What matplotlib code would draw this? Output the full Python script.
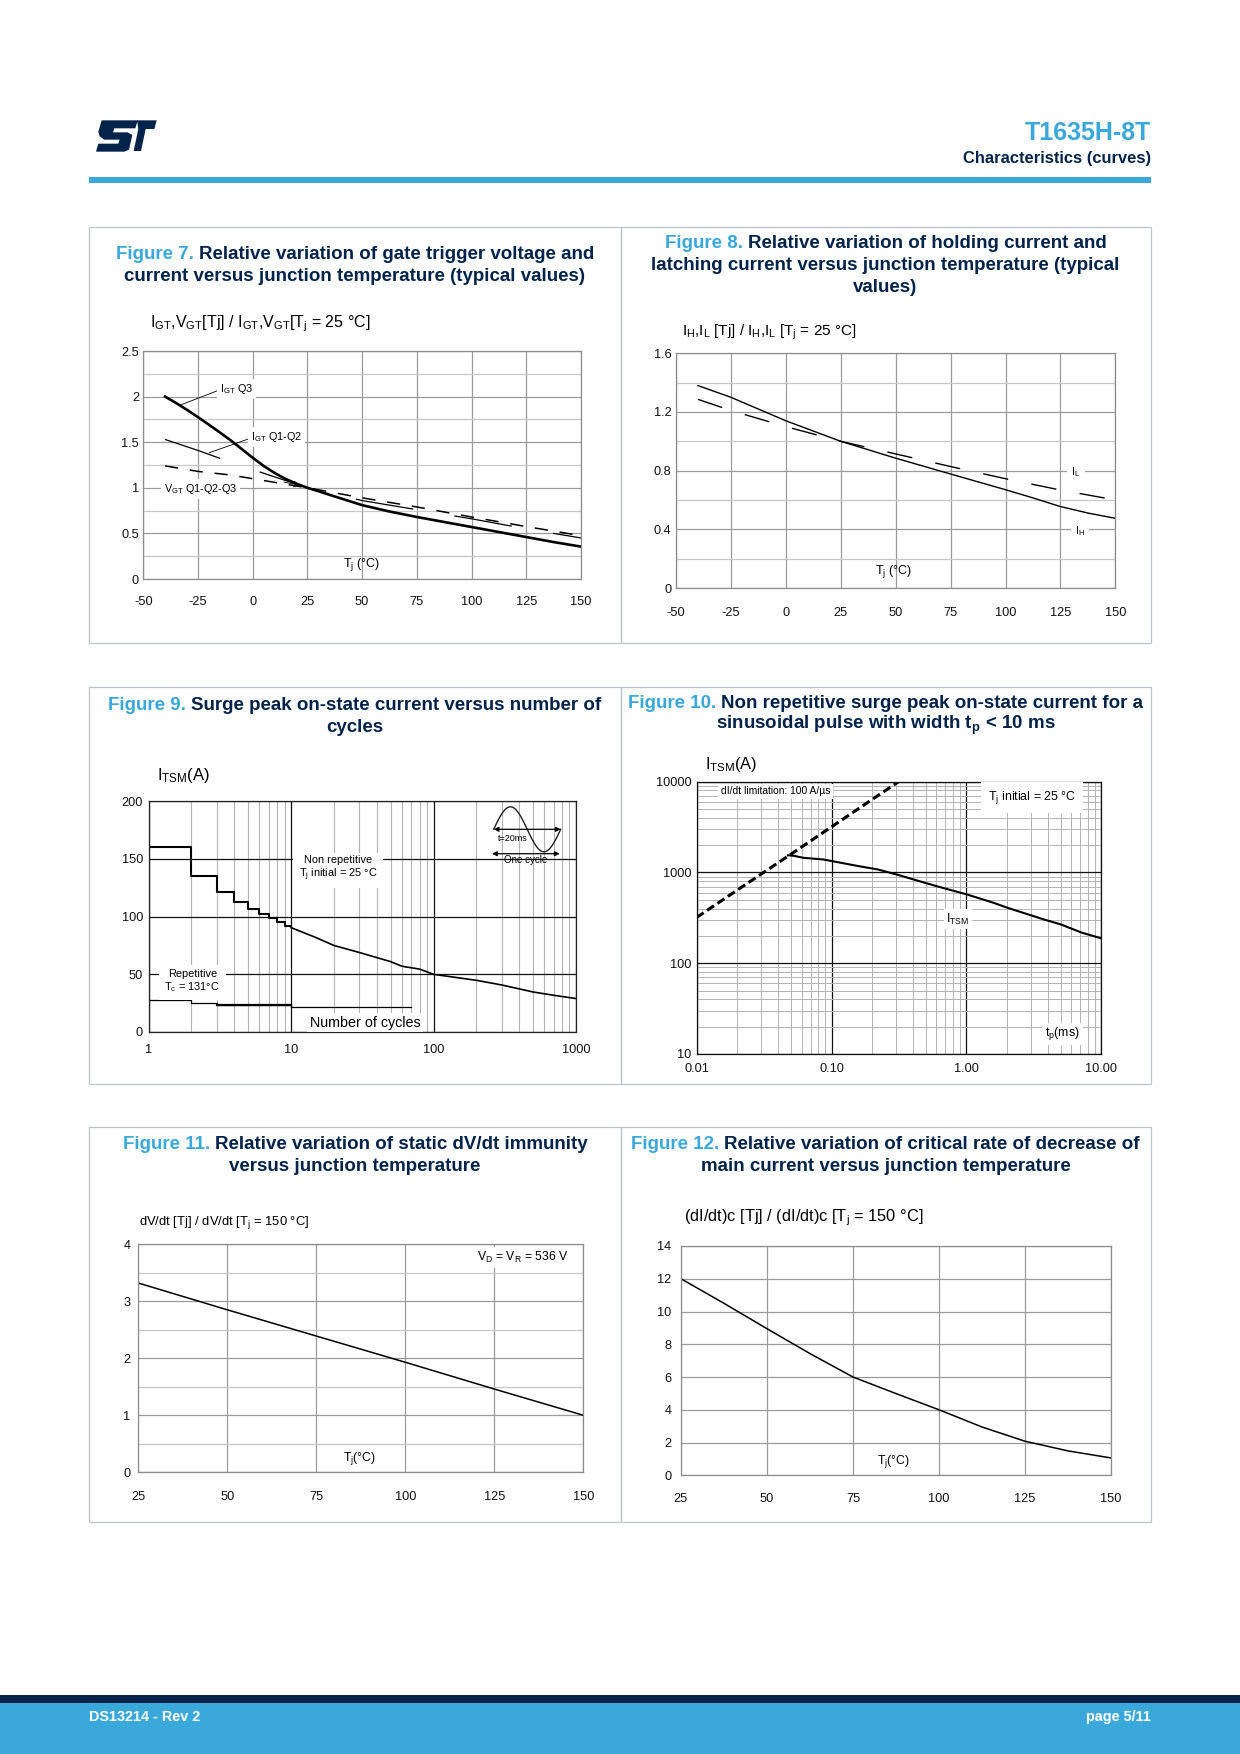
import numpy as np
import matplotlib
matplotlib.use('Agg')
import matplotlib.pyplot as plt
from matplotlib.patches import Rectangle, Polygon
from matplotlib.ticker import NullLocator, NullFormatter

plt.rcParams['font.family'] = ['Liberation Sans', 'DejaVu Sans']
plt.rcParams['mathtext.fontset'] = 'custom'
plt.rcParams['mathtext.rm'] = 'Liberation Sans'
plt.rcParams['mathtext.it'] = 'Liberation Sans:italic'
plt.rcParams['mathtext.bf'] = 'Liberation Sans:bold'
plt.rcParams['lines.scale_dashes'] = False

# ---- data ----
# Figure 7: IGT / VGT relative to 25 degC
f7_tj_q3 = [-40, -35, -30, -25, -20, -15, -10, -5, 0, 5, 10, 15, 20, 25, 30, 37.5, 50, 62.5, 75, 87.5, 100, 112.5, 125, 137.5, 150]
f7_igt_q3 = [2.00, 1.93, 1.855, 1.775, 1.692, 1.607, 1.52, 1.425, 1.33, 1.24, 1.163, 1.098, 1.045, 1.00, 0.963,
             0.905, 0.81, 0.74, 0.68, 0.625, 0.57, 0.515, 0.46, 0.405, 0.355]
f7_tj = [-40, -25, -10, 0, 12.5, 25, 50, 75, 100, 125, 150]
f7_igt_q12 = [1.53, 1.41, 1.28, 1.20, 1.10, 1.00, 0.86, 0.76, 0.66, 0.55, 0.45]
f7_vgt = [1.24, 1.18, 1.14, 1.10, 1.05, 1.00, 0.89, 0.79, 0.68, 0.575, 0.475]

# Figure 8: IH / IL relative to 25 degC
f8_tj = [-40, -25, 0, 25, 50, 75, 100, 112.5, 125, 137.5, 150]
f8_ih = [1.38, 1.30, 1.14, 1.00, 0.885, 0.777, 0.67, 0.614, 0.555, 0.511, 0.475]
f8_il = [1.286, 1.21, 1.10, 1.00, 0.914, 0.828, 0.745, 0.706, 0.668, 0.634, 0.60]

# Figure 9: ITSM vs number of cycles
f9_step_n = [1, 2, 3, 4, 5, 6, 7, 8, 9, 10]
f9_step_i = [160, 135, 121, 113, 107, 102, 99, 95, 92, 92]
f9_nonrep_n = [10, 15, 20, 30, 40, 50, 60, 80, 100, 200, 300, 500, 700, 1000]
f9_nonrep_i = [90.5, 81.8, 75, 69, 64.5, 61, 57, 54.5, 50, 44.8, 40.8, 34.7, 31.8, 29]
f9_rep_n = [1, 2, 3, 10, 70]
f9_rep_i = [27.5, 25, 23.5, 22, 22]

# Figure 10: ITSM vs pulse width
f10_lim_tp = [0.01, 0.02, 0.05, 0.1, 0.2, 0.314]
f10_lim_i = [320, 640, 1590, 3180, 6370, 10000]
f10_tp = [0.0475, 0.052, 0.062, 0.087, 0.1, 0.156, 0.22, 0.3, 0.59, 1.0, 1.58, 2.0, 3.8, 5.0, 7.2, 10]
f10_itsm = [1545, 1530, 1450, 1390, 1337, 1180, 1080, 955, 712, 575, 465, 410, 302, 268, 217, 188]

# Figure 11: dV/dt relative to 150 degC
f11_tj = [25, 50, 75, 100, 125, 150]
f11_ratio = [3.32, 2.85, 2.39, 1.93, 1.46, 1.00]

# Figure 12: (dI/dt)c relative to 150 degC
f12_tj = [25, 37.5, 50, 62.5, 75, 87.5, 100, 112.5, 125, 137.5, 150]
f12_ratio = [12.0, 10.5, 8.95, 7.43, 6.0, 4.99, 4.0, 2.95, 2.08, 1.49, 1.06]

W, H = 1240, 1754
NAVY = '#03234b'
BLUE = '#3aa8db'
GRID = '#9b9b9b'
GRID2 = '#c8c8c8'

fig = plt.figure(figsize=(W / 100, H / 100), dpi=100)


def add_ax(l, t, r, b):
    return fig.add_axes([l / W, 1 - b / H, (r - l) / W, (b - t) / H])


def ptext(x, y, s, **kw):
    return fig.text(x / W, 1 - y / H, s, **kw)


def rect(l, t, r, b, **kw):
    fig.add_artist(Rectangle((l / W, 1 - b / H), (r - l) / W, (b - t) / H,
                             transform=fig.transFigure, **kw))


def title(cx, ys, lines):
    rend = fig.canvas.get_renderer()
    for y, parts in zip(ys, lines):
        objs, widths = [], []
        for s, c in parts:
            t = ptext(0, y, s, color=c, fontsize=13.5, fontweight='bold', va='center', ha='left')
            objs.append(t)
            widths.append(t.get_window_extent(rend).width)
        gap = 5
        x = cx - (sum(widths) + gap * (len(parts) - 1)) / 2
        for t, w in zip(objs, widths):
            t.set_x(x / W)
            x += w + gap


def style(ax, xpad, ypad, spine='#8c8c8c'):
    for s in ax.spines.values():
        s.set_color(spine)
        s.set_linewidth(0.9)
    ax.tick_params(which='both', length=0, labelsize=9.2, colors='#111111')
    ax.tick_params(axis='x', pad=xpad)
    ax.tick_params(axis='y', pad=ypad)
    ax.set_axisbelow(True)


def lin_grid(ax, xt, ymaj, ylab, ymin=None):
    ax.set_xticks(xt, labels=[str(v) for v in xt])
    ax.set_yticks(ymaj, labels=ylab)
    if ymin is not None:
        ax.set_yticks(ymin, minor=True)
        ax.yaxis.grid(True, which='minor', color=GRID2, lw=0.9)
    ax.grid(True, which='major', color=GRID, lw=0.9)


bbox_w = dict(facecolor='white', edgecolor='none', pad=2)

# ---- header ----
logo_s = [(50, 16), (158, 16), (151, 40), (88, 40), (84, 52), (128, 52), (142, 60), (132, 104), (118, 110),
          (33, 110), (40, 86), (100, 86), (104, 74), (58, 74), (44, 64), (40, 50)]
logo_t = [(156, 16), (215, 16), (208, 42), (182, 42), (168, 108), (146, 108), (160, 42)]
for poly in (logo_s, logo_t):
    pts = [((85 + cx / 3) / W, 1 - (115 + cy / 3) / H) for cx, cy in poly]
    fig.add_artist(Polygon(pts, closed=True, facecolor=NAVY, edgecolor='none', transform=fig.transFigure))

ptext(1151, 132.5, 'T1635H-8T', color=BLUE, fontsize=18, fontweight='bold', ha='right', va='center')
ptext(1151, 158, 'Characteristics (curves)', color=NAVY, fontsize=11.9, fontweight='bold', ha='right', va='center')
rect(89, 177, 1151, 183, facecolor=BLUE, edgecolor='none')

# ---- footer ----
rect(0, 1695, W, 1703, facecolor=NAVY, edgecolor='none')
rect(0, 1703, W, H, facecolor=BLUE, edgecolor='none')
ptext(89, 1717, 'DS13214 - Rev 2', color='white', fontsize=10.4, fontweight='bold', ha='left', va='center')
ptext(1151, 1717, 'page 5/11', color='white', fontsize=10.4, fontweight='bold', ha='right', va='center')

# ---- panel frames ----
for t, b in [(227, 643), (686.5, 1083.5), (1127, 1522)]:
    for l, r in [(89.4, 620.5), (620.5, 1150.5)]:
        rect(l, t, r, b, facecolor='none', edgecolor='#bcc4cc', lw=0.9)

# ---- Figure 7 ----
title(355, [254.7, 276.3],
      [[('Figure 7.', BLUE), ('Relative variation of gate trigger voltage and', NAVY)],
       [('current versus junction temperature (typical values)', NAVY)]])
ax = add_ax(143.2, 351, 581, 579)
style(ax, 12.4, 3)
ax.set_xlim(-50, 150)
ax.set_ylim(0, 2.5)
lin_grid(ax, list(range(-50, 151, 25)), [0, 0.5, 1, 1.5, 2, 2.5], ['0', '0.5', '1', '1.5', '2', '2.5'],
         [0.25, 0.75, 1.25, 1.75, 2.25])
ax.plot(f7_tj_q3, f7_igt_q3, color='k', lw=1.9)
ax.plot(f7_tj, f7_igt_q12, color='k', lw=0.9, dashes=(42, 30))
ax.plot(f7_tj, f7_vgt, color='k', lw=1.1, dashes=(9.5, 8.5))
ax.plot([-15.5, -32.7], [2.07, 1.91], color='k', lw=0.6)
ax.plot([-2, -19.8], [1.535, 1.385], color='k', lw=0.6)
ax.annotate('', xy=(23, 1.02), xytext=(13, 1.07),
            arrowprops=dict(arrowstyle='->', lw=0.6, color='k'))
ax.text(-15, 2.08, r'$\mathregular{I_{GT}}$ Q3', fontsize=7.8, ha='left', va='center', bbox=bbox_w)
ax.text(-0.8, 1.56, r'$\mathregular{I_{GT}}$ Q1-Q2', fontsize=7.8, ha='left', va='center', bbox=bbox_w)
ax.text(-40.7, 0.99, r'$\mathregular{V_{GT}}$ Q1-Q2-Q3', fontsize=7.8, ha='left', va='center', bbox=bbox_w)
ptext(150, 324, r'$\mathregular{I_{GT}}$,$\mathregular{V_{GT}}$[Tj] / $\mathregular{I_{GT}}$,$\mathregular{V_{GT}}$[$\mathregular{T_j}$ = 25 °C]',
      fontsize=11.5, ha='left', va='center')
ptext(361.6, 564, r'$\mathregular{T_j}$ (°C)', fontsize=9, ha='center', va='center')

# ---- Figure 8 ----
title(885.5, [243.3, 265.7, 287.3],
      [[('Figure 8.', BLUE), ('Relative variation of holding current and', NAVY)],
       [('latching current versus junction temperature (typical', NAVY)],
       [('values)', NAVY)]])
ax = add_ax(676, 353.3, 1115.4, 588)
style(ax, 13.9, 3.2)
ax.set_xlim(-50, 150)
ax.set_ylim(0, 1.6)
lin_grid(ax, list(range(-50, 151, 25)), [0, 0.4, 0.8, 1.2, 1.6], ['0', '0.4', '0.8', '1.2', '1.6'],
         [0.2, 0.6, 1.0, 1.4])
ax.plot(f8_tj, f8_ih, color='k', lw=1.0)
ax.plot(f8_tj, f8_il, color='k', lw=1.0, dashes=(18.4, 17))
ax.text(130, 0.793, r'$\mathregular{I_L}$', fontsize=7.8, ha='left', va='center', bbox=dict(facecolor='white', edgecolor='none', pad=3))
ax.text(131.5, 0.39, r'$\mathregular{I_H}$', fontsize=7.8, ha='left', va='center', bbox=dict(facecolor='white', edgecolor='none', pad=3))
ptext(682, 332, r'$\mathregular{I_H}$,$\mathregular{I_L}$ [Tj] / $\mathregular{I_H}$,$\mathregular{I_L}$ [$\mathregular{T_j}$ = 25 °C]',
      fontsize=11, ha='left', va='center')
ptext(894, 571, r'$\mathregular{T_j}$ (°C)', fontsize=9, ha='center', va='center')

# ---- Figure 9 ----
title(355, [705.3, 727.7],
      [[('Figure 9.', BLUE), ('Surge peak on-state current versus number of', NAVY)],
       [('cycles', NAVY)]])
ax = add_ax(148.6, 801.3, 576, 1032)
style(ax, 8.9, 4, spine='#222222')
ax.set_xscale('log')
ax.set_xlim(1, 1000)
ax.set_ylim(0, 200)
ax.set_xticks([1, 10, 100, 1000], labels=['1', '10', '100', '1000'])
ax.set_xticks([m * 10 ** k for k in range(3) for m in range(2, 10)], minor=True)
ax.xaxis.set_minor_formatter(NullFormatter())
ax.set_yticks([0, 50, 100, 150, 200], labels=['0', '50', '100', '150', '200'])
ax.yaxis.set_minor_locator(NullLocator())
ax.xaxis.grid(True, which='minor', color='#b4b4b4', lw=0.8)
ax.grid(True, which='major', color='#111111', lw=0.9)
ax.plot(f9_step_n, f9_step_i, color='k', lw=1.5, drawstyle='steps-post')
ax.plot(f9_nonrep_n, f9_nonrep_i, color='k', lw=1.2)
ax.plot(f9_rep_n, f9_rep_i, color='k', lw=0.9, drawstyle='steps-post')
ax.plot(f9_rep_n[2:4], f9_rep_i[2:3] * 2, color='k', lw=1.6)
ptext(338, 868.7, 'Non repetitive\n' + r'$\mathregular{T_j}$ initial = 25 °C', fontsize=7.9, ha='center', va='center',
      multialignment='center', linespacing=1.15, bbox=dict(facecolor='white', edgecolor='none', pad=4))
ptext(192.3, 981.5, 'Repetitive\n' + r'$\mathregular{T_c}$ = 131°C', fontsize=7.9, ha='center', va='center',
      multialignment='center', linespacing=1.15, bbox=dict(facecolor='white', edgecolor='none', pad=4))
ptext(365, 1022.7, 'Number of cycles', fontsize=10.3, ha='center', va='center', bbox=bbox_w)
ptext(156.7, 775.3, r'$\mathregular{I_{TSM}}$(A)', fontsize=12, ha='left', va='center')

# small waveform icon
ins = add_ax(488.6, 802.7, 566.5, 866)
ins.set_xlim(488.6, 566.5)
ins.set_ylim(866, 802.7)
ins.set_facecolor('white')
ins.set_axis_off()
ins.patch.set_visible(True)
ph = np.linspace(0, 2 * np.pi, 80)
ins.plot(493.7 + ph / (2 * np.pi) * 67, 829.3 - 22.5 * np.sin(ph), color='#222222', lw=1.0)
ins.annotate('', xy=(493.7, 829.3), xytext=(560.7, 829.3),
             arrowprops=dict(arrowstyle='<|-|>', lw=0.9, color='k', mutation_scale=7, shrinkA=0, shrinkB=0))
ins.annotate('', xy=(492, 853.7), xytext=(559.7, 853.7),
             arrowprops=dict(arrowstyle='<|-|>', lw=0.9, color='k', mutation_scale=7, shrinkA=0, shrinkB=0))
ins.text(512.3, 838.3, 't=20ms', fontsize=6.5, ha='center', va='center')
ins.text(525.8, 860, 'One cycle', fontsize=7, ha='center', va='center')

# ---- Figure 10 ----
title(885.7, [703.3, 725.3],
      [[('Figure 10.', BLUE), ('Non repetitive surge peak on-state current for a', NAVY)],
       [(r'sinusoidal pulse with width $\mathbf{t_p}$ < 10 ms', NAVY)]])
ax = add_ax(696.7, 781.7, 1101.2, 1054)
style(ax, 6.5, 4, spine='#111111')
ax.set_xscale('log')
ax.set_yscale('log')
ax.set_xlim(0.01, 10)
ax.set_ylim(10, 10000)
ax.set_xticks([0.01, 0.1, 1, 10], labels=['0.01', '0.10', '1.00', '10.00'])
ax.set_yticks([10, 100, 1000, 10000], labels=['10', '100', '1000', '10000'])
ax.set_xticks([m * 10.0 ** k for k in range(-2, 1) for m in range(2, 10)], minor=True)
ax.set_yticks([m * 10 ** k for k in range(1, 4) for m in range(2, 10)], minor=True)
ax.xaxis.set_minor_formatter(NullFormatter())
ax.yaxis.set_minor_formatter(NullFormatter())
ax.grid(True, which='minor', color='#b4b4b4', lw=0.7)
ax.grid(True, which='major', color='#111111', lw=0.9)
ax.plot(f10_lim_tp, f10_lim_i, color='k', lw=2.2, dashes=(6, 3))
ax.plot(f10_tp, f10_itsm, color='k', lw=1.5)
ptext(721, 791.3, 'dI/dt limitation: 100 A/µs', fontsize=7.4, ha='left', va='center', bbox=bbox_w)
ptext(988, 797.7, r'$\mathregular{T_j}$ initial = 25 °C', fontsize=8.9, ha='left', va='center',
      bbox=dict(facecolor='white', edgecolor='none', pad=5))
ptext(958, 919, r'$\mathregular{I_{TSM}}$', fontsize=9, ha='center', va='center', bbox=bbox_w)
ptext(1062.6, 1034, r'$\mathregular{t_p}$(ms)', fontsize=9, ha='center', va='center', bbox=bbox_w)
ptext(704.8, 764.3, r'$\mathregular{I_{TSM}}$(A)', fontsize=11.8, ha='left', va='center')

# ---- Figure 11 ----
title(355, [1144.3, 1166.3],
      [[('Figure 11.', BLUE), ('Relative variation of static dV/dt immunity', NAVY)],
       [('versus junction temperature', NAVY)]])
ax = add_ax(138.4, 1244.3, 583.4, 1472.3)
style(ax, 13.6, 5.8)
ax.set_xlim(25, 150)
ax.set_ylim(0, 4)
lin_grid(ax, list(range(25, 151, 25)), [0, 1, 2, 3, 4], ['0', '1', '2', '3', '4'], [0.5, 1.5, 2.5, 3.5])
ax.plot(f11_tj, f11_ratio, color='k', lw=1.1)
ptext(476.7, 1257.7, r'$\mathregular{V_D}$ = $\mathregular{V_R}$ = 536 V', fontsize=8.8, ha='left', va='center', bbox=bbox_w)
ptext(360, 1458.7, r'$\mathregular{T_j}$(°C)', fontsize=8.8, ha='center', va='center')
ptext(139, 1222.7, r'dV/dt [Tj] / dV/dt [$\mathregular{T_j}$ = 150 °C]', fontsize=9.4, ha='left', va='center')

# ---- Figure 12 ----
title(885.5, [1144.3, 1166.3],
      [[('Figure 12.', BLUE), ('Relative variation of critical rate of decrease of', NAVY)],
       [('main current versus junction temperature', NAVY)]])
ax = add_ax(681, 1246, 1111, 1475.3)
style(ax, 12.8, 7)
ax.set_xlim(25, 150)
ax.set_ylim(0, 14)
lin_grid(ax, list(range(25, 151, 25)), list(range(0, 15, 2)), [str(v) for v in range(0, 15, 2)])
ax.plot(f12_tj, f12_ratio, color='k', lw=1.1)
ptext(894, 1462, r'$\mathregular{T_j}$(°C)', fontsize=8.8, ha='center', va='center')
ptext(683.8, 1217.7, r'(dI/dt)c [Tj] / (dI/dt)c [$\mathregular{T_j}$ = 150 °C]', fontsize=11.8, ha='left', va='center')

fig.savefig('out.png', dpi=100)
